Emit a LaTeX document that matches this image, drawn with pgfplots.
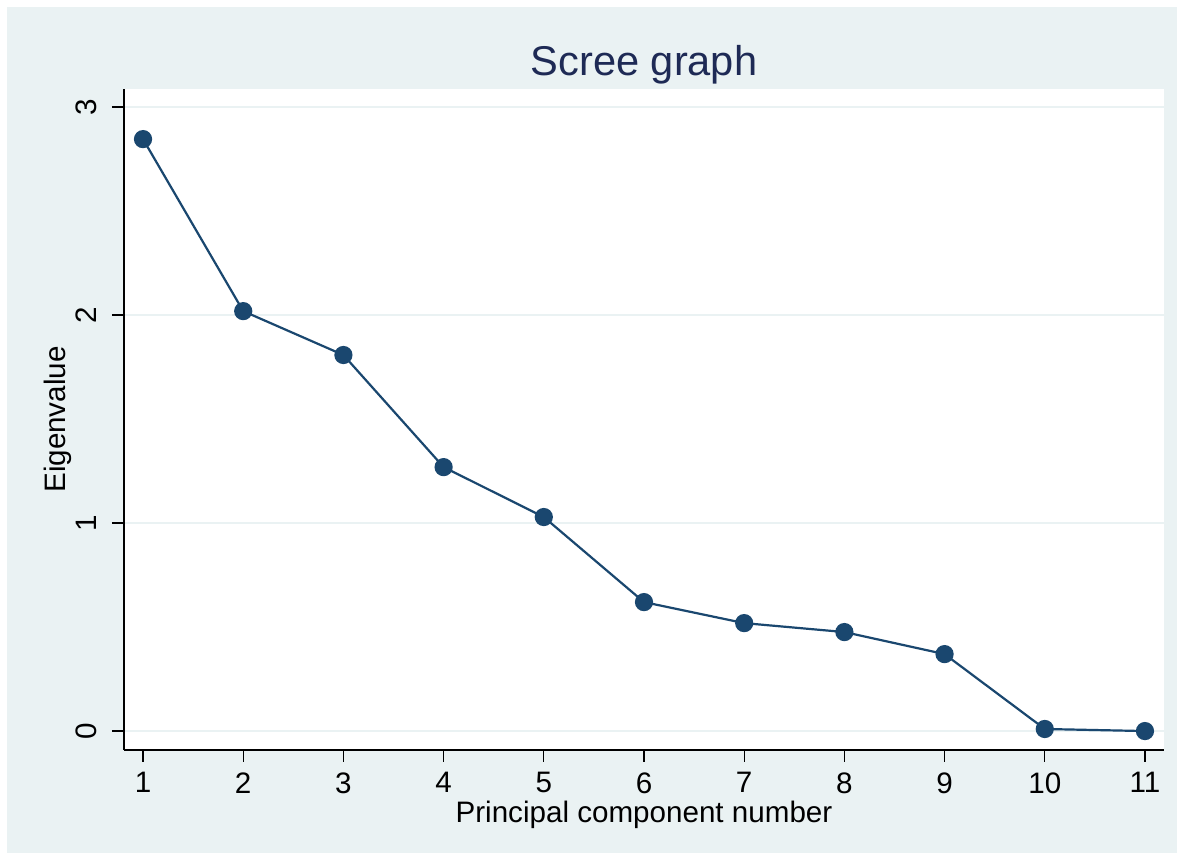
\documentclass[border=0pt]{standalone}
\usepackage{fontspec}
\setmainfont{Liberation Sans}
\usepackage{pgfplots}
\pgfplotsset{compat=1.18}
\definecolor{bgc}{HTML}{EAF2F3}
\definecolor{navy}{HTML}{1A476F}
\definecolor{titc}{HTML}{1E2A55}
\begin{document}
\begin{tikzpicture}
\fill[white] (-62pt,-55.5pt) rectangle (530pt,375pt);
\fill[bgc] (-58.5pt,-51.5pt) rectangle (526.5pt,371.5pt);
\begin{axis}[
  scale only axis,
  width=520pt, height=330.5pt,
  xmin=0.81, xmax=11.19,
  ymin=-0.091, ymax=3.087,
  axis background/.style={fill=white},
  axis x line*=bottom, axis y line*=left,
  axis line style={-, black, line width=0.6pt},
  xtick={1,2,3,4,5,6,7,8,9,10,11},
  ytick={0,1,2,3},
  tick align=outside,
  major tick length=6pt,
  tick style={black, line width=0.6pt},
  ymajorgrids,
  grid style={bgc, line width=1pt},
  font=\fontsize{14.8pt}{17pt}\selectfont,
  /pgf/number format/assume math mode=true,
  yticklabel style={rotate=90, anchor=south, inner sep=0pt, yshift=7.5pt},
  xticklabel style={anchor=north, inner sep=0pt, yshift=-5pt},
  ylabel={Eigenvalue},
  xlabel={Principal component number},
  ylabel style={at={(axis description cs:0,0.5)}, anchor=center, yshift=33pt},
  xlabel style={at={(axis description cs:0.5,0)}, anchor=center, yshift=-32.5pt},
  title={Scree graph},
  title style={at={(axis description cs:0.5,1)}, anchor=center, yshift=6pt, text=titc, font=\fontsize{20.8pt}{24pt}\selectfont},
]
\addplot[navy, line width=1.1pt, mark=*, mark size=4pt, mark options={fill=navy, draw=navy}] coordinates {
(1,2.846) (2,2.019) (3,1.808) (4,1.269) (5,1.029) (6,0.620) (7,0.519) (8,0.476) (9,0.370) (10,0.010) (11,0.000)
};
\end{axis}
\end{tikzpicture}
\end{document}
